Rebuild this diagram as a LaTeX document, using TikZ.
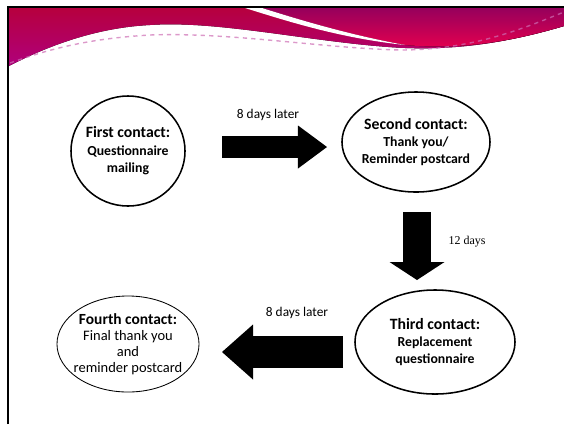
\documentclass[tikz,border=0pt]{standalone}
\usepackage{fontspec}
\setmainfont{Carlito}
\newfontfamily\notefont{Liberation Serif}
\usepackage{tikz}
\usetikzlibrary{arrows.meta,shapes.geometric,positioning}
\definecolor{bannertop}{RGB}{182,0,62}
\definecolor{bannerlow}{RGB}{176,0,124}
\definecolor{bannerplum}{RGB}{150,0,92}
\definecolor{bannerred}{RGB}{232,0,78}
\definecolor{trimcolor}{RGB}{205,110,180}

\newcommand{\ctitle}{\fontsize{11.2}{12.4}\selectfont}
\newcommand{\cbody}{\fontsize{9.8}{12.4}\selectfont\bfseries}
\newcommand{\ltitle}{\fontsize{11}{11.3}\selectfont\bfseries}
\newcommand{\lbody}{\fontsize{10.3}{11.3}\selectfont}

\begin{document}
\begin{tikzpicture}[
    x=0.025cm, y=-0.025cm,
    contact/.style={ellipse, draw, line width=1.1pt, inner xsep=-6pt, inner ysep=0pt, align=center, font=\cbody},
    lastcontact/.style={ellipse, draw, line width=0.6pt, inner xsep=-6pt, inner ysep=0pt, align=center, font=\lbody},
    gap/.style={font=\fontsize{9.5}{11}\selectfont, inner sep=0pt},
    blockarrow/.style n args={3}{line width=#1, -{Triangle[length=#2, width=#3, line width=0pt]}}
]
    \useasboundingbox (0,0) rectangle (564,424);

    % title banner
    \fill[top color=bannertop, bottom color=bannerlow] (9,8) -- (564,8) -- (564,26)
        .. controls (510,42) and (460,50) .. (405,48)
        .. controls (320,44) and (220,20) .. (150,25)
        .. controls (90,28) and (40,50) .. (9,66) -- cycle;
    \fill[top color=bannerplum, bottom color=bannerred] (262,8) -- (564,8) -- (564,26)
        .. controls (510,42) and (460,50) .. (405,45)
        .. controls (350,35) and (300,20) .. (262,8) -- cycle;
    \fill[white] (245,8) -- (262,8) .. controls (300,20) and (350,35) .. (405,45)
        .. controls (340,38) and (290,22) .. (245,8) -- cycle;
    \draw[trimcolor, dashed, line width=1pt, opacity=0.7] (10,63)
        .. controls (60,45) and (100,38) .. (150,35)
        .. controls (230,32) and (320,48) .. (400,50)
        .. controls (470,50) and (520,30) .. (564,12);
    \draw[line width=0.05cm] (8,424) -- (8,7) -- (564,7);

    % contacts
    \node[contact, minimum width=2.85cm, minimum height=2.75cm] (first) at (128,151)
        {\ctitle First contact:\\Questionnaire\\mailing};
    \node[contact, minimum width=3.7cm, minimum height=2.5cm] (second) at (416,142)
        {\ctitle Second contact:\\Thank you/\\Reminder postcard};
    \node[contact, minimum width=4cm, minimum height=2.6cm] (third) at (435,342)
        {\ctitle Third contact:\\Replacement\\questionnaire};
    \node[lastcontact, minimum width=3.55cm, minimum height=2.4cm] (fourth) at (128,344)
        {\ltitle Fourth contact:\\Final thank you\\and\\reminder postcard};

    % waits between contacts
    \coordinate (r1) at (222,147);
    \coordinate (r2) at (327,147);
    \coordinate (d1) at (417,212);
    \coordinate (d2) at (417,280);
    \coordinate (l1) at (343,352);
    \coordinate (l2) at (222,352);

    \draw[blockarrow={0.55cm}{0.725cm}{1.075cm}] (r1) -- (r2);
    \draw[blockarrow={0.7cm}{0.45cm}{1.375cm}] (d1) -- (d2);
    \draw[blockarrow={0.78cm}{0.775cm}{1.375cm}] (l1) -- (l2);

    \node[gap] (later1) at (268,115) {8 days later};
    \node[gap, font=\notefont\fontsize{8.5}{10}\selectfont] (later2) at (467,242) {12 days};
    \node[gap] (later3) at (297,313) {8 days later};
\end{tikzpicture}
\end{document}
